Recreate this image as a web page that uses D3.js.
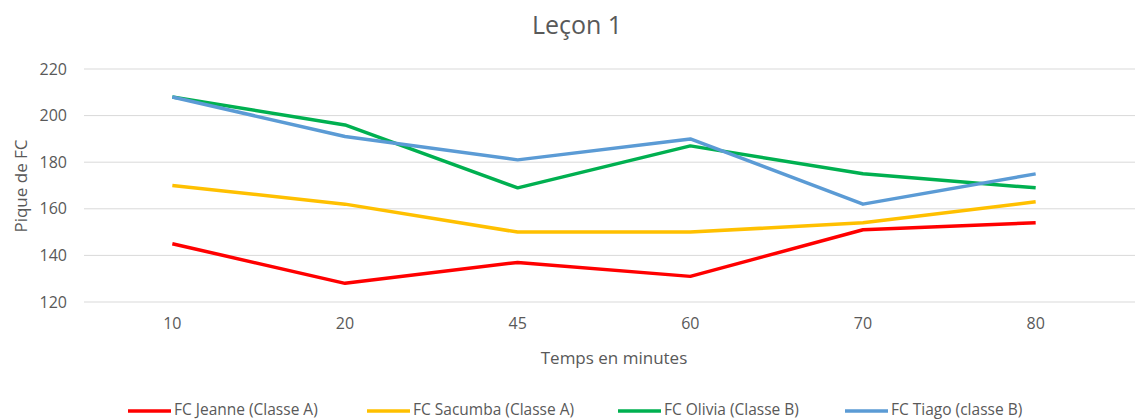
<!DOCTYPE html>
<html>
<head>
<meta charset="utf-8">
<script src="https://cdn.jsdelivr.net/npm/d3@7"></script>
<style>
  body { margin: 0; background: #fff; }
  text { font-family: "Open Sans", "Noto Sans", sans-serif; fill: #595959; }
</style>
</head>
<body>
<div id="chartArea"></div>
<script>
// data
const minutes = ["10", "20", "45", "60", "70", "80"];
const jeanne  = [145, 128, 137, 131, 151, 154];
const sacumba = [170, 162, 150, 150, 154, 163];
const olivia  = [208, 196, 169, 187, 175, 169];
const tiago   = [208, 191, 181, 190, 162, 175];
const seriesNames  = ["FC Jeanne (Classe A)", "FC Sacumba (Classe A)", "FC Olivia (Classe B)", "FC Tiago (classe B)"];
const seriesColors = ["#FF0000", "#FFC000", "#00B050", "#5B9BD5"];
const yTicks = [120, 140, 160, 180, 200, 220];

const width = 1135, height = 419;
const margin = { top: 69, right: 11, bottom: 117, left: 86 };
const plotW = width - margin.left - margin.right;
const plotH = height - margin.top - margin.bottom;

const allSeries = [jeanne, sacumba, olivia, tiago];

var svg = d3.select("#chartArea").append("svg")
    .attr("width", width)
    .attr("height", height);

var g = svg.append("g")
    .attr("transform", "translate(" + margin.left + "," + margin.top + ")");

var xScale = d3.scaleBand().domain(minutes).range([0, plotW - 2]);
var yScale = d3.scaleLinear().domain([120, 220]).range([plotH, 0]);

// gridlines
g.selectAll(".grid").data(yTicks).enter().append("line")
    .attr("class", "grid")
    .attr("x1", -2).attr("x2", plotW + margin.right)
    .attr("y1", d => yScale(d)).attr("y2", d => yScale(d))
    .attr("stroke", "#d9d9d9").attr("stroke-width", 1);

// y axis labels
var yAxis = d3.axisLeft(yScale).tickValues(yTicks).tickSize(0).tickPadding(19);
g.append("g").attr("class", "y axis").call(yAxis)
    .call(a => a.select(".domain").remove())
    .selectAll("text").style("font-size", "16px");

// x axis labels
var xAxis = d3.axisBottom(xScale).tickSize(0).tickPadding(16);
g.append("g").attr("class", "x axis")
    .attr("transform", "translate(0," + plotH + ")")
    .call(xAxis)
    .call(a => a.select(".domain").remove())
    .selectAll("text").style("font-size", "16px");

// lines
var line = d3.line()
    .x((d, i) => xScale(minutes[i]) + xScale.bandwidth() / 2)
    .y(d => yScale(d));

g.selectAll(".series").data(allSeries).enter().append("path")
    .attr("class", "series")
    .attr("d", d => line(d))
    .attr("fill", "none")
    .attr("stroke", (d, i) => seriesColors[i])
    .attr("stroke-width", 3.5)
    .attr("stroke-linejoin", "round");

// title
svg.append("text")
    .attr("x", 577).attr("y", 34)
    .attr("text-anchor", "middle")
    .style("font-size", "25px")
    .text("Leçon 1");

// axis titles
svg.append("text")
    .attr("x", 614).attr("y", 364)
    .attr("text-anchor", "middle")
    .style("font-size", "17px")
    .text("Temps en minutes");

svg.append("text")
    .attr("transform", "translate(27,186) rotate(-90)")
    .attr("text-anchor", "middle")
    .style("font-size", "17px")
    .text("Pique de FC");

// legend (kept just inside the bottom edge)
const legendX = [128, 367, 618, 845];
var legend = svg.selectAll(".legend").data(seriesNames).enter().append("g")
    .attr("class", "legend")
    .attr("transform", (d, i) => "translate(" + legendX[i] + ",411)");

legend.append("line")
    .attr("x1", 0).attr("x2", 43)
    .attr("stroke", (d, i) => seriesColors[i])
    .attr("stroke-width", 3.5);

legend.append("text")
    .attr("x", 46).attr("y", 4)
    .style("font-size", "15.5px")
    .text(d => d);
</script>
</body>
</html>
